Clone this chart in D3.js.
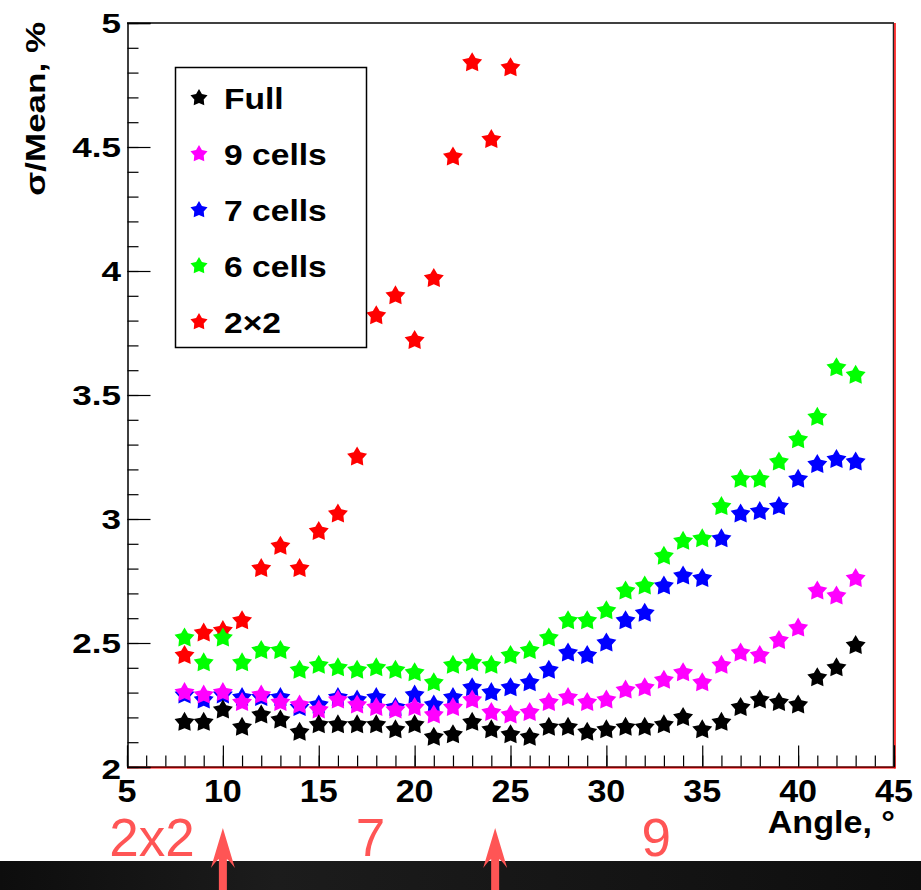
<!DOCTYPE html>
<html>
<head>
<meta charset="utf-8">
<script src="https://cdn.jsdelivr.net/npm/d3@7"></script>
<style>
  html, body { margin: 0; padding: 0; background: #fff; }
  svg { display: block; }
  text { font-family: "Liberation Sans", Arial, sans-serif; }
</style>
</head>
<body>
<div id="chart"></div>
<script>
// values, angle in degrees
var angles = [8, 9, 10, 11, 12, 13, 14, 15, 16, 17, 18, 19, 20, 21, 22, 23, 24, 25,
              26, 27, 28, 29, 30, 31, 32, 33, 34, 35, 36, 37, 38, 39, 40, 41, 42, 43];

var full = [2.18, 2.18, 2.23, 2.16, 2.21, 2.19, 2.14, 2.17, 2.17, 2.17, 2.17, 2.15,
            2.17, 2.12, 2.13, 2.18, 2.15, 2.13, 2.12, 2.16, 2.16, 2.14, 2.15, 2.16,
            2.16, 2.17, 2.20, 2.15, 2.18, 2.24, 2.27, 2.26, 2.25, 2.36, 2.40, 2.49];

var nineCells = [2.30, 2.29, 2.30, 2.26, 2.29, 2.26, 2.25, 2.23, 2.27, 2.25, 2.24, 2.23,
                 2.24, 2.21, 2.24, 2.27, 2.22, 2.21, 2.22, 2.26, 2.28, 2.26, 2.27, 2.31,
                 2.32, 2.35, 2.38, 2.34, 2.41, 2.46, 2.45, 2.51, 2.56, 2.71, 2.69, 2.76];

var sevenCells = [2.29, 2.27, 2.29, 2.28, 2.28, 2.28, 2.24, 2.25, 2.28, 2.27, 2.28, 2.24,
                  2.29, 2.25, 2.28, 2.32, 2.30, 2.32, 2.34, 2.39, 2.46, 2.45, 2.50, 2.59,
                  2.62, 2.73, 2.77, 2.76, 2.92, 3.02, 3.03, 3.05, 3.16, 3.22, 3.24, 3.23];

var sixCells = [2.52, 2.42, 2.52, 2.42, 2.47, 2.47, 2.39, 2.41, 2.40, 2.39, 2.40, 2.39,
                2.38, 2.34, 2.41, 2.42, 2.41, 2.45, 2.47, 2.52, 2.59, 2.59, 2.63, 2.71,
                2.73, 2.85, 2.91, 2.92, 3.05, 3.16, 3.16, 3.23, 3.32, 3.41, 3.61, 3.58];

// 2x2 only goes up to 25 degrees
var twoByTwo = [2.45, 2.54, 2.55, 2.59, 2.80, 2.89, 2.80, 2.95, 3.02, 3.25, 3.82, 3.90,
                3.72, 3.97, 4.46, 4.84, 4.53, 4.82];

var seriesNames = ['Full', '9 cells', '7 cells', '6 cells', '2\u00d72'];
var seriesValues = [full, nineCells, sevenCells, sixCells, twoByTwo];
var seriesColors = ['#000000', '#ff00ff', '#0000ff', '#00ff00', '#ff0000'];

var xTicks = [5, 10, 15, 20, 25, 30, 35, 40, 45];
var yTicks = [2, 2.5, 3, 3.5, 4, 4.5, 5];

// red notes written under the axis, placed in angle units
var noteLabels = ['2x2', '7', '9'];
var noteAngles = [6.3, 17.7, 32.6];
var arrowAngles = [10, 24.2];

var W = 921, H = 890;
var frame = {left: 127, right: 894, top: 23, bottom: 767};

var svg = d3.select('#chart').append('svg')
    .attr('width', W)
    .attr('height', H);

var x = d3.scaleLinear().domain([5, 45]).range([frame.left, frame.right]);
var y = d3.scaleLinear().domain([2, 5]).range([frame.bottom, frame.top]);

// fat five point star, like ROOT marker 29
var star = {
    draw: function(ctx, r) {
        var inner = r * 0.55;
        for (var i = 0; i < 10; i++) {
            var rr = i % 2 ? inner : r;
            var a = -Math.PI / 2 + i * Math.PI / 5;
            if (i === 0) ctx.moveTo(rr * Math.cos(a), rr * Math.sin(a));
            else ctx.lineTo(rr * Math.cos(a), rr * Math.sin(a));
        }
        ctx.closePath();
    }
};

// frame
svg.append('line')
    .attr('x1', frame.left).attr('x2', frame.right)
    .attr('y1', frame.top).attr('y2', frame.top)
    .attr('stroke', '#000').attr('stroke-width', 1.5);
svg.append('line')
    .attr('x1', frame.right - 0.5).attr('x2', frame.right - 0.5)
    .attr('y1', frame.top).attr('y2', frame.bottom)
    .attr('stroke', '#222').attr('stroke-width', 1.5);
svg.append('line')
    .attr('x1', frame.right + 1).attr('x2', frame.right + 1)
    .attr('y1', frame.top).attr('y2', frame.bottom + 1.5)
    .attr('stroke', '#ff0000').attr('stroke-width', 1.5);
svg.append('line')
    .attr('x1', frame.left).attr('x2', frame.right + 1.5)
    .attr('y1', frame.bottom + 0.5).attr('y2', frame.bottom + 0.5)
    .attr('stroke', '#ff0000').attr('stroke-width', 2);

// axes, ticks drawn inward like ROOT
var xAxis = svg.append('g')
    .attr('class', 'axis-x')
    .attr('transform', 'translate(0,' + (frame.bottom - 0.5) + ')');
xAxis.append('g')
    .call(d3.axisTop(x).ticks(40).tickSize(11).tickFormat(''))
    .call(g => g.select('.domain').remove());
xAxis.append('g')
    .call(d3.axisTop(x).tickValues(xTicks).tickSize(21).tickFormat(''))
    .call(g => g.select('.domain').attr('stroke', '#000').attr('stroke-width', 1));
xAxis.selectAll('.tick line').attr('stroke', '#000').attr('stroke-width', 1.2);

svg.append('g')
    .selectAll('text')
    .data(xTicks)
    .enter().append('text')
    .attr('transform', d => 'translate(' + x(d) + ',' + (frame.bottom + 35) + ') scale(1.1,1)')
    .attr('text-anchor', 'middle')
    .attr('font-size', 31)
    .attr('font-weight', 'bold')
    .text(d => d);

var yAxis = svg.append('g')
    .attr('class', 'axis-y')
    .attr('transform', 'translate(' + (frame.left + 0.5) + ',0)');
yAxis.append('g')
    .call(d3.axisRight(y).ticks(30).tickSize(11).tickFormat(''))
    .call(g => g.select('.domain').remove());
yAxis.append('g')
    .call(d3.axisRight(y).tickValues(yTicks).tickSize(23).tickFormat(''))
    .call(g => g.select('.domain').attr('stroke', '#000').attr('stroke-width', 1.5));
yAxis.selectAll('.tick line').attr('stroke', '#000').attr('stroke-width', 1.2);

svg.append('g')
    .selectAll('text')
    .data(yTicks)
    .enter().append('text')
    .attr('transform', d => 'translate(' + (frame.left - 6) + ',' + (y(d) + (d === 2 ? 12 : 9.5)) + ') scale(1.3,1)')
    .attr('text-anchor', 'end')
    .attr('font-size', 27)
    .attr('font-weight', 'bold')
    .text(d => d);

// axis titles
svg.append('text')
    .attr('transform', 'translate(45,' + (frame.top - 1) + ') rotate(-90) scale(1,0.8)')
    .attr('text-anchor', 'end')
    .attr('font-size', 35)
    .attr('font-weight', 'bold')
    .text('\u03c3/Mean, %');

svg.append('text')
    .attr('transform', 'translate(' + (frame.right + 1) + ',833) scale(1.1,1)')
    .attr('text-anchor', 'end')
    .attr('font-size', 31)
    .attr('font-weight', 'bold')
    .text('Angle, \u00b0');

// markers, 2x2 first so the others lie over it
var drawOrder = [4, 3, 2, 1, 0];
var markers = svg.append('g').attr('class', 'markers');
drawOrder.forEach(function(s) {
    markers.append('g')
        .selectAll('path')
        .data(seriesValues[s])
        .enter().append('path')
        .attr('transform', (d, i) => 'translate(' + x(angles[i]) + ',' + y(d) + ')')
        .attr('d', d3.symbol().type(star).size(10.5))
        .attr('fill', seriesColors[s]);
});

// legend
var legend = svg.append('g').attr('class', 'legend');
legend.append('rect')
    .attr('x', 175.5).attr('y', 67.5)
    .attr('width', 191).attr('height', 280)
    .attr('fill', '#fff')
    .attr('stroke', '#000').attr('stroke-width', 1.5);
var rows = legend.selectAll('g.row')
    .data(seriesNames)
    .enter().append('g')
    .attr('class', 'row')
    .attr('transform', (d, i) => 'translate(0,' + (109 + i * 56) + ')');
rows.append('path')
    .attr('transform', 'translate(199,-11)')
    .attr('d', d3.symbol().type(star).size(9))
    .attr('fill', (d, i) => seriesColors[i]);
rows.append('text')
    .attr('transform', 'translate(224,0) scale(1.12,1)')
    .attr('font-size', 30)
    .attr('font-weight', 'bold')
    .text(d => d);

// dark strip at the bottom of the slide
var grad = svg.append('defs').append('linearGradient')
    .attr('id', 'strip')
    .attr('x1', '0%').attr('x2', '100%');
grad.append('stop').attr('offset', '0%').attr('stop-color', '#0d0d0d');
grad.append('stop').attr('offset', '30%').attr('stop-color', '#1c1c1c');
grad.append('stop').attr('offset', '70%').attr('stop-color', '#141414');
grad.append('stop').attr('offset', '100%').attr('stop-color', '#0e0e0e');
svg.append('rect')
    .attr('x', 0).attr('y', 861)
    .attr('width', W).attr('height', H - 861)
    .attr('fill', 'url(#strip)');

// red notes and arrows
var noteColor = '#ff5555';
svg.append('g')
    .selectAll('text')
    .data(noteLabels)
    .enter().append('text')
    .attr('x', (d, i) => x(noteAngles[i]))
    .attr('y', 856)
    .attr('text-anchor', 'middle')
    .attr('font-family', '"Open Sans", "DejaVu Sans", sans-serif')
    .attr('font-size', 53)
    .attr('fill', noteColor)
    .text(d => d);

svg.append('g')
    .selectAll('path')
    .data(arrowAngles)
    .enter().append('path')
    .attr('transform', d => 'translate(' + x(d) + ',828)')
    .attr('d', 'M0,0 L12,40 Q6,32 4,31 L4,62 L-4,62 L-4,31 Q-6,32 -12,40 Z')
    .attr('fill', noteColor);
</script>
</body>
</html>
